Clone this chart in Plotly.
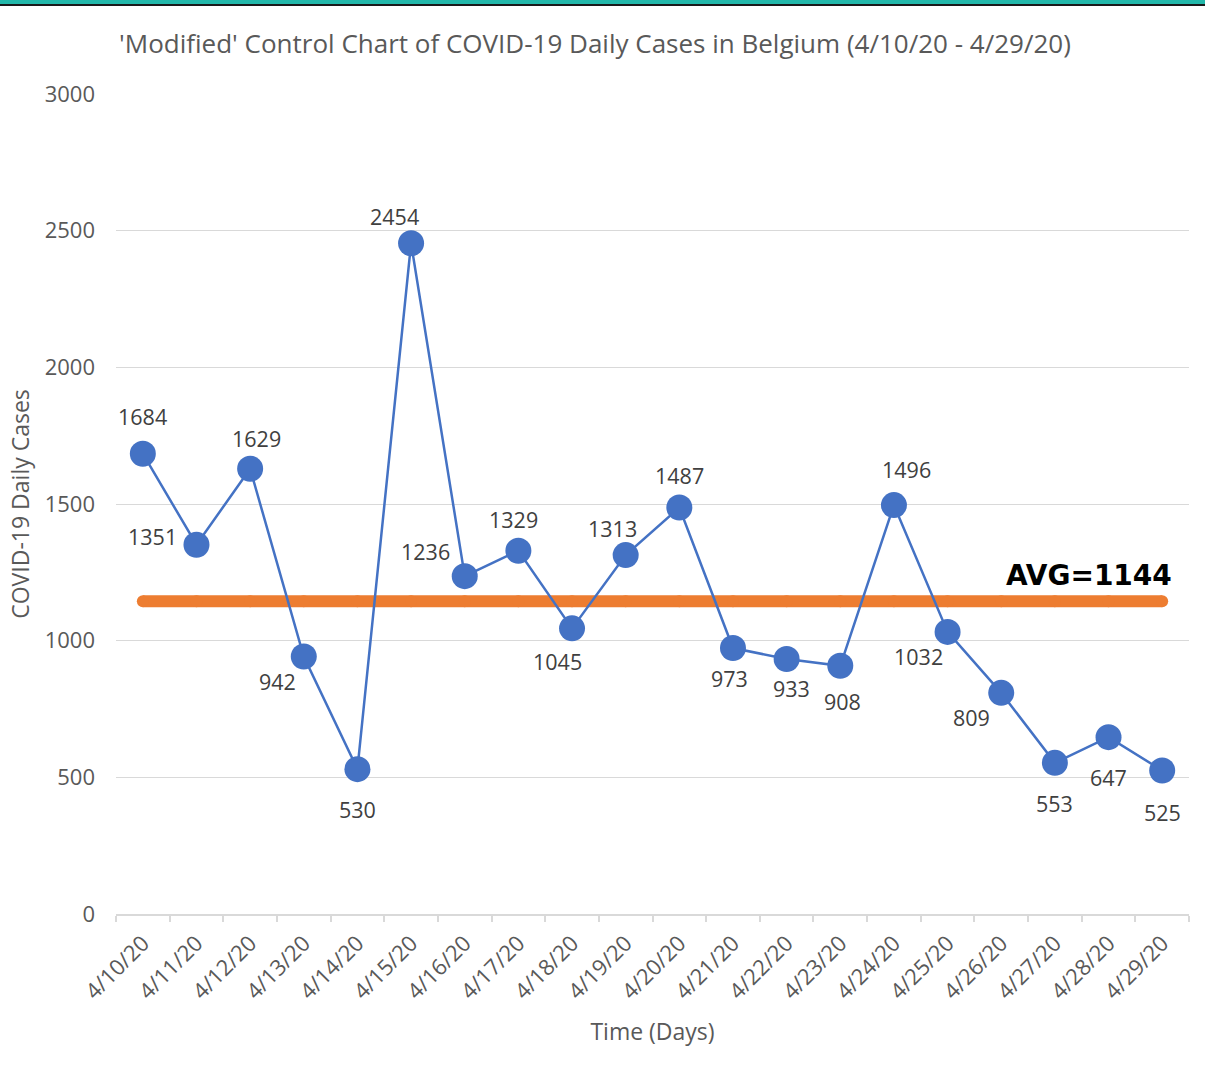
import plotly.graph_objects as go

dates = ["4/10/20", "4/11/20", "4/12/20", "4/13/20", "4/14/20", "4/15/20", "4/16/20",
         "4/17/20", "4/18/20", "4/19/20", "4/20/20", "4/21/20", "4/22/20", "4/23/20",
         "4/24/20", "4/25/20", "4/26/20", "4/27/20", "4/28/20", "4/29/20"]
cases = [1684, 1351, 1629, 942, 530, 2454, 1236, 1329, 1045, 1313, 1487,
         973, 933, 908, 1496, 1032, 809, 553, 647, 525]
y_ticks = [0, 500, 1000, 1500, 2000, 2500, 3000]

avg = sum(cases) / len(cases)

# label offsets (pixels) for data labels: (dx, dy) with dy positive = down
label_offsets = [(0, 37), (-44, 8), (6, 30), (-26, -25), (0, -40), (-17, 27), (-39, 25),
                 (-5, 31), (-15, -33), (-13, 27), (0, 32), (-3, -30), (5, -30), (2, -36),
                 (13, 36), (-29, -25), (-30, -25), (0, -41), (0, -40), (0, -42)]

W, H = 1205, 1076
ML, MR, MT, MB = 116, 16, 94, 162
ph = H - MT - MB
pw = W - ML - MR

fig = go.Figure()
fig.add_trace(go.Scatter(
    x=dates, y=[avg] * len(dates), mode="lines+markers",
    line=dict(color="#ED7D31", width=12),
    marker=dict(size=12, color="#ED7D31", line=dict(width=0)),
    hoverinfo="skip", showlegend=False))
fig.add_trace(go.Scatter(
    x=dates, y=cases, mode="lines+markers",
    line=dict(color="#4472C4", width=2.5),
    marker=dict(size=26, color="#4472C4", line=dict(width=0)),
    showlegend=False))

anns = []
for d, v, (dx, dy) in zip(dates, cases, label_offsets):
    anns.append(dict(x=d, y=v, xref="x", yref="y", text=str(v), showarrow=False,
                     xshift=dx, yshift=dy,
                     font=dict(family="Open Sans", size=21.5, color="#404040")))
anns.append(dict(x=dates[-1], y=avg, xref="x", yref="y", text=f"<b>AVG={round(avg)}</b>",
                 showarrow=False, xanchor="right", yanchor="middle", xshift=12, yshift=26,
                 font=dict(family="DejaVu Sans", size=28, color="#000000")))

fig.update_layout(
    width=W, height=H,
    margin=dict(l=ML, r=MR, t=MT, b=MB),
    paper_bgcolor="white", plot_bgcolor="white",
    title=dict(text="'Modified' Control Chart of COVID-19 Daily Cases in Belgium (4/10/20 - 4/29/20)",
               x=595 / W, xref="container", xanchor="center", y=1 - 44 / H, yanchor="middle",
               font=dict(family="Open Sans", size=26, color="#595959")),
    annotations=anns,
    shapes=[
        dict(type="rect", xref="paper", yref="paper", x0=-ML / pw, x1=1 + MR / pw,
             y0=1 + (MT - 4) / ph, y1=1 + (MT + 2) / ph, fillcolor="#22B8AA", line=dict(width=0)),
        dict(type="rect", xref="paper", yref="paper", x0=-ML / pw, x1=1 + MR / pw,
             y0=1 + (MT - 6) / ph, y1=1 + (MT - 4) / ph, fillcolor="#1a1a1a", line=dict(width=0)),
    ],
    xaxis=dict(
        type="category", range=[-0.5, len(dates) - 0.5],
        tickson="boundaries", ticks="outside", ticklen=6, tickcolor="#d9d9d9", tickwidth=1.5,
        showline=True, linecolor="#d9d9d9", linewidth=1.5,
        showgrid=False, tickangle=-45, ticklabelstandoff=6,
        tickfont=dict(family="Open Sans", size=22, color="#595959"),
        title=dict(text="Time (Days)", standoff=20,
                   font=dict(family="Open Sans", size=23, color="#595959")),
    ),
    yaxis=dict(
        range=[0, 3000], tickvals=y_ticks, ticktext=[str(t) for t in y_ticks],
        showgrid=True, gridcolor="#d9d9d9", gridwidth=1.3,
        zeroline=False, showline=False, ticks="", ticklen=0,
        ticklabelstandoff=20,
        tickfont=dict(family="Open Sans", size=22, color="#595959"),
        title=dict(text="COVID-19 Daily Cases", standoff=8,
                   font=dict(family="Open Sans", size=23, color="#595959")),
    ),
)

fig.write_html("out.html", config={"displayModeBar": False},
               post_script="document.body.style.margin='0';document.body.style.padding='0';")
